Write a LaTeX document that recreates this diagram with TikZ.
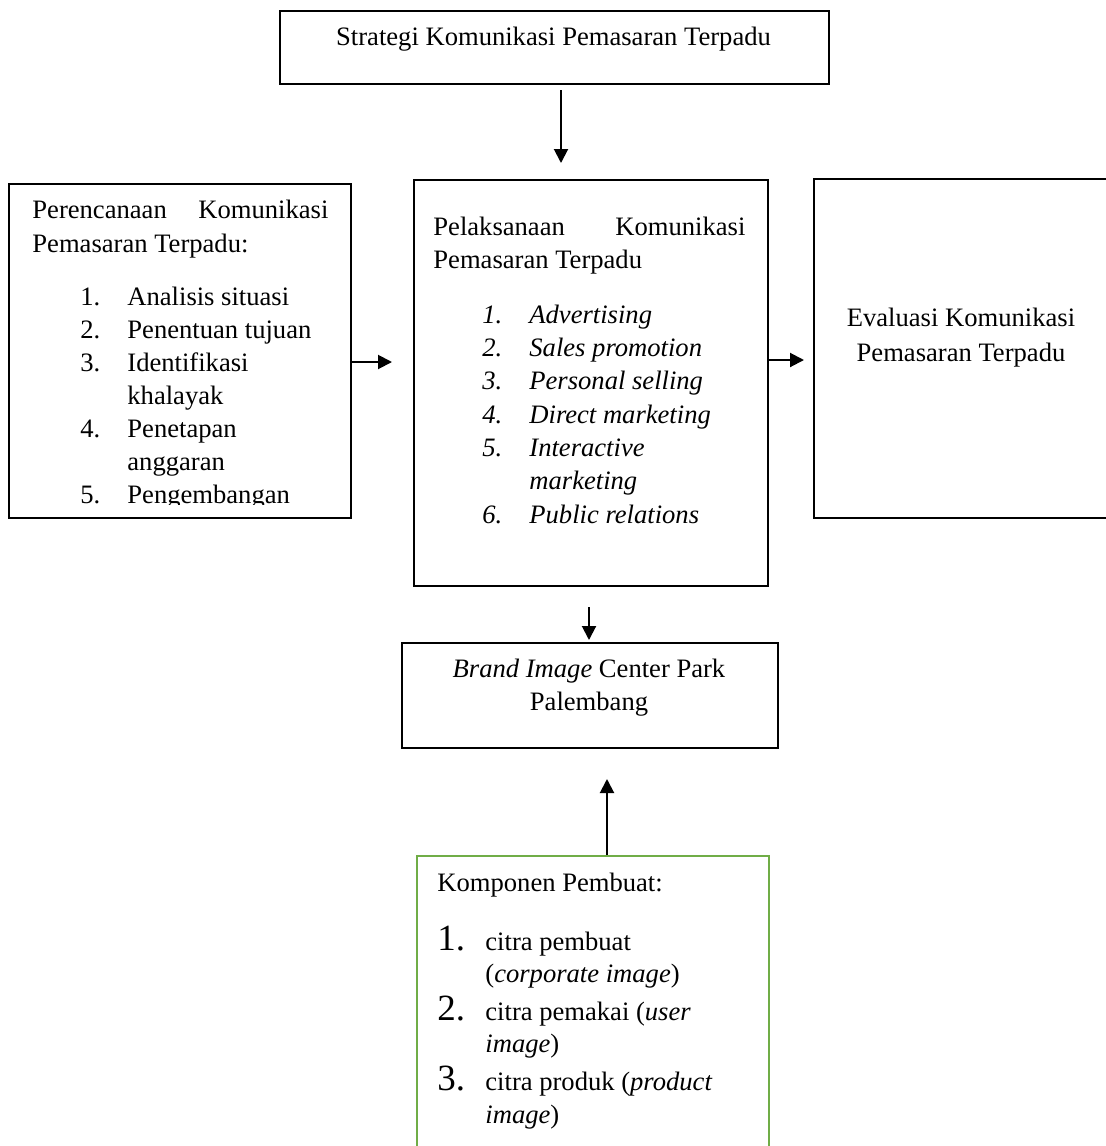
\documentclass[tikz,border=0pt]{standalone}
\usepackage{fontspec}
\setmainfont{Liberation Serif}
\usetikzlibrary{arrows.meta,calc}
\definecolor{boxgreen}{HTML}{70AD47}
\tikzset{
  box/.style={draw, line width=1pt, inner sep=0pt, anchor=north west},
  arr/.style={-{Triangle[length=7pt,width=7pt]}, line width=1pt},
  txt/.style={inner sep=0pt, anchor=base west},
  ctxt/.style={inner sep=0pt, anchor=base},
  bignum/.style={inner sep=0pt, anchor=base west, font=\fontsize{18.5pt}{20pt}\selectfont}
}
\begin{document}
\begin{tikzpicture}[x=0.5pt,y=-0.5pt,font=\fontsize{13.3pt}{16pt}\selectfont]
\useasboundingbox (0,0) rectangle (1106,1146);

% boxes
\node[box, minimum width=274.5pt, minimum height=36.5pt] (top) at (279,10) {};
\node[box, minimum width=171pt, minimum height=167pt] (left) at (8,183) {};
\node[box, minimum width=177pt, minimum height=203pt] (mid) at (413,179) {};
\node[box, minimum width=160pt, minimum height=169.5pt] (right) at (813,178) {};
\node[box, minimum width=188pt, minimum height=52.5pt] (brand) at (401,642) {};
\node[box, draw=boxgreen, minimum width=176pt, minimum height=160pt] (green) at (416,855) {};

% top text
\node[ctxt] (toptext) at (553.5,45) {Strategi Komunikasi Pemasaran Terpadu};

% left box text (clipped at bottom)
\begin{scope}
\clip (8,183) rectangle (350,504);
\node[txt] (l0) at (32,218) {\hbox to 148pt{Perencanaan\hfill Komunikasi}};
\node[txt] (l1) at (32,252) {Pemasaran Terpadu:};
\node[txt] (ln1) at (80,305) {1.};
\node[txt] (li1) at (127,305) {Analisis situasi};
\node[txt] (ln2) at (80,338) {2.};
\node[txt] (li2) at (127,338) {Penentuan tujuan};
\node[txt] (ln3) at (80,371) {3.};
\node[txt] (li3) at (127,371) {Identifikasi};
\node[txt] (li3b) at (127,404) {khalayak};
\node[txt] (ln4) at (80,437) {4.};
\node[txt] (li4) at (127,437) {Penetapan};
\node[txt] (li4b) at (127,470) {anggaran};
\node[txt] (ln5) at (80,503) {5.};
\node[txt] (li5) at (127,503) {Pengembangan};
\end{scope}

% middle box text
\node[txt] (m0) at (433,235) {\hbox to 156pt{Pelaksanaan\hfill Komunikasi}};
\node[txt] (m1) at (433,268) {Pemasaran Terpadu};
\node[txt] (mn1) at (482,323) {\itshape 1.};
\node[txt] (mi1) at (529,323) {\itshape Advertising};
\node[txt] (mn2) at (482,356) {\itshape 2.};
\node[txt] (mi2) at (529,356) {\itshape Sales promotion};
\node[txt] (mn3) at (482,389) {\itshape 3.};
\node[txt] (mi3) at (529,389) {\itshape Personal selling};
\node[txt] (mn4) at (482,423) {\itshape 4.};
\node[txt] (mi4) at (529,423) {\itshape Direct marketing};
\node[txt] (mn5) at (482,456) {\itshape 5.};
\node[txt] (mi5) at (529,456) {\itshape Interactive};
\node[txt] (mi5b) at (529,489) {\itshape marketing};
\node[txt] (mn6) at (482,523) {\itshape 6.};
\node[txt] (mi6) at (529,523) {\itshape Public relations};

% right box text
\node[ctxt] (r0) at (961,326) {Evaluasi Komunikasi};
\node[ctxt] (r1) at (961,361) {Pemasaran Terpadu};

% brand box text
\node[ctxt] (b0) at (589,677) {\textit{Brand Image} Center Park};
\node[ctxt] (b1) at (589,710) {Palembang};

% green box text
\node[txt] (g0) at (437,891) {Komponen Pembuat:};
\node[bignum] (gn1) at (437,950) {1.};
\node[txt] (gi1) at (485,950) {citra pembuat};
\node[txt] (gi1b) at (485,982) {(\textit{corporate image})};
\node[bignum] (gn2) at (437,1020) {2.};
\node[txt] (gi2) at (485,1020) {citra pemakai (\textit{user}};
\node[txt] (gi2b) at (485,1052) {\textit{image})};
\node[bignum] (gn3) at (437,1090) {3.};
\node[txt] (gi3) at (485,1090) {citra produk (\textit{product}};
\node[txt] (gi3b) at (485,1123) {\textit{image})};

% connectors
\draw[arr, shorten <=2.5pt, shorten >=8pt] ($(top.south west)+(282,0)$) -- ($(mid.north west)+(148,0)$);
\draw[arr, shorten >=10.5pt] ($(left.north east)+(0,179)$) -- ($(mid.north west)+(0,183)$);
\draw[arr, shorten >=4.5pt] ($(mid.north east)+(0,181)$) -- ($(right.north west)+(0,182)$);
\draw[arr, shorten <=10pt, shorten >=1pt] ($(mid.south west)+(176,0)$) -- ($(brand.north west)+(188,0)$);
\draw[arr, shorten >=15pt] ($(green.north west)+(191,0)$) -- ($(brand.south west)+(206,0)$);
\end{tikzpicture}
\end{document}
